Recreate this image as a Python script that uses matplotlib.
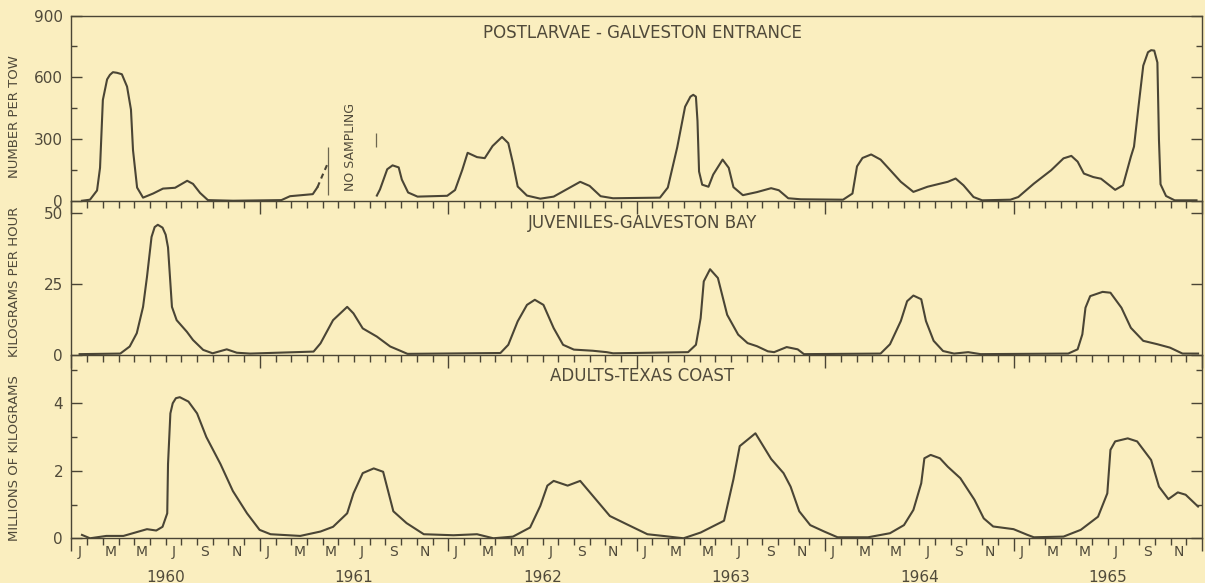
import matplotlib
matplotlib.use("Agg")
import matplotlib.pyplot as plt
import matplotlib.transforms as mtransforms
from matplotlib.ticker import FixedLocator

# ---------------- data (x = months since 1 Jan 1960) ----------------
post_a_month = [0.67, 1.18, 1.63, 1.82, 2.0, 2.27, 2.45, 2.64, 2.9, 3.21, 3.54, 3.79, 3.92,
                4.18, 4.56, 5.2, 5.83, 6.6, 7.37, 7.74, 8.19, 8.69, 10.3, 13.37, 13.92,
                15.37, 15.67]
post_a_value = [0, 5, 50, 160, 490, 590, 612, 625, 622, 615, 555, 443, 246,
                64, 15, 35, 59, 63, 97, 82, 38, 3, 0, 3, 22,
                32, 66]
post_dash_month = [15.67, 15.95, 16.37]
post_dash_value = [66, 117, 190]
post_b_month = [19.45, 19.65, 20.11, 20.45, 20.84, 21.04, 21.44, 22.04, 23.93, 24.43, 24.89,
                25.23, 25.83, 26.32, 26.82, 27.42, 27.82, 28.12, 28.42, 29.01, 29.86, 30.71,
                31.6, 32.4, 33.0, 33.7, 34.49, 37.48, 37.98, 38.58, 39.08, 39.42, 39.6, 39.77,
                39.87, 39.97, 40.17, 40.57, 40.87, 41.47, 41.86, 42.16, 42.76, 43.66, 44.56,
                45.05, 45.65, 46.45, 49.14, 49.74, 50.03, 50.38, 50.93, 51.53, 52.13, 52.82,
                53.62, 54.52, 55.16, 55.81, 56.31, 56.81, 57.45, 58.0, 59.8, 60.3, 61.29,
                62.39, 63.18, 63.68, 64.08, 64.48, 65.08, 65.57, 65.97, 66.47, 66.97, 67.47,
                67.67, 67.96, 68.26, 68.56, 68.76, 68.96, 69.16, 69.26, 69.36, 69.71, 70.26,
                71.65]
post_b_value = [25, 55, 153, 172, 162, 103, 40, 20, 24, 52, 150,
                233, 212, 207, 266, 310, 280, 182, 69, 25, 10, 20,
                58, 92, 72, 22, 12, 15, 64, 260, 457, 506, 515, 506,
                388, 142, 78, 68, 127, 200, 160, 66, 27, 42, 61,
                51, 12, 7, 5, 35, 167, 208, 225, 200, 150, 92,
                43, 68, 80, 92, 108, 75, 18, 2, 5, 18, 83,
                148, 206, 218, 190, 132, 115, 107, 83, 53, 75, 214,
                263, 460, 657, 722, 732, 730, 672, 295, 80, 23, 2,
                2]
gap_marks_month = [16.35, 19.41]
gap_marks_low = [28, 261]
gap_marks_high = [261, 329]

juv_month = [0.52, 3.11, 3.71, 4.16, 4.56, 4.81, 5.1, 5.3, 5.5, 5.8, 6.0, 6.15, 6.4, 6.7,
             7.35, 7.74, 8.39, 8.99, 9.89, 10.53, 11.38, 15.42, 15.86, 16.66, 17.56, 17.96,
             18.55, 19.45, 20.3, 20.94, 21.4, 27.32, 27.82, 28.42, 29.01, 29.51, 30.06,
             30.71, 31.31, 32.0, 33.2, 34.09, 34.49, 39.27, 39.77, 40.07, 40.27, 40.67,
             41.17, 41.76, 42.46, 43.06, 43.66, 44.35, 44.75, 45.55, 46.25, 46.65, 51.53,
             52.13, 52.82, 53.22, 53.62, 54.12, 54.42, 54.91, 55.51, 56.21, 57.11, 57.9,
             63.48, 64.08, 64.38, 64.58, 64.88, 65.67, 66.17, 66.87, 67.47, 68.26, 69.16,
             69.96, 70.76, 71.75]
juv_value = [0.3, 0.5, 3, 7.7, 17, 27.6, 41.7, 45.2, 46, 45, 42.5, 38, 17, 12.3,
             8.2, 5.3, 1.8, 0.6, 2, 0.8, 0.5, 1.2, 4.1, 12.3, 17, 14.7,
             9.4, 6.5, 3, 1.5, 0.4, 0.7, 3.6, 11.9, 17.7, 19.5, 17.7,
             9.5, 3.6, 1.9, 1.5, 1, 0.6, 1, 3.6, 13, 26, 30.3,
             27.2, 14.2, 7.2, 4.2, 3.1, 1.3, 1, 2.8, 2.0, 0.3, 0.5,
             3.8, 12, 19, 21, 19.7, 12, 5, 1.4, 0.5, 1, 0.3,
             0.5, 2, 7.3, 16.7, 20.8, 22.3, 22, 16.7, 9.6, 5, 3.8,
             2.6, 0.5, 0.5]

adult_month = [0.67, 1.18, 2.22, 3.31, 3.91, 4.81, 5.4, 5.8, 6.1, 6.15, 6.3, 6.45, 6.65, 6.9,
               7.45, 8.0, 8.59, 9.49, 10.28, 11.18, 11.98, 12.68, 14.57, 15.86, 16.66, 17.56,
               17.96, 18.55, 19.25, 19.85, 20.15, 20.5, 21.34, 22.44, 24.33, 25.83, 26.87,
               28.12, 29.21, 29.86, 30.31, 30.71, 31.6, 32.4, 33.2, 34.29, 35.39, 36.68,
               37.68, 38.98, 40.07, 41.56, 42.16, 42.56, 43.56, 44.56, 45.35, 45.8, 46.35,
               47.05, 47.94, 48.79, 50.73, 52.13, 53.02, 53.62, 54.12, 54.32, 54.72, 55.31,
               55.81, 56.61, 57.51, 58.1, 58.7, 60.0, 60.89, 61.29, 63.18, 64.28, 65.38,
               65.97, 66.17, 66.47, 67.27, 67.87, 68.76, 69.26, 69.86, 70.46, 70.96, 71.75]
adult_value = [0.1, 0, 0.07, 0.07, 0.15, 0.27, 0.23, 0.34, 0.74, 2.2, 3.7, 4.0, 4.15, 4.18,
               4.05, 3.7, 3.0, 2.2, 1.4, 0.74, 0.25, 0.12, 0.07, 0.2, 0.34, 0.74,
               1.33, 1.93, 2.07, 1.97, 1.43, 0.8, 0.45, 0.12, 0.09, 0.12, 0,
               0.05, 0.32, 0.96, 1.56, 1.7, 1.56, 1.7, 1.26, 0.66, 0.41, 0.12,
               0.07, 0, 0.17, 0.52, 1.75, 2.73, 3.11, 2.35, 1.93, 1.53, 0.8,
               0.39, 0.2, 0.03, 0.03, 0.15, 0.39, 0.84, 1.63, 2.37, 2.47, 2.37,
               2.12, 1.78, 1.14, 0.59, 0.35, 0.27, 0.1, 0.03, 0.05, 0.25, 0.64,
               1.33, 2.62, 2.87, 2.96, 2.87, 2.32, 1.53, 1.16, 1.36, 1.29, 0.94]

month_letters = ["J", "M", "M", "J", "S", "N"]
years = ["1960", "1961", "1962", "1963", "1964", "1965"]
titles = ["POSTLARVAE - GALVESTON ENTRANCE", "JUVENILES-GALVESTON BAY", "ADULTS-TEXAS COAST"]
ylabels = ["NUMBER PER TOW", "KILOGRAMS PER HOUR", "MILLIONS OF KILOGRAMS"]
no_sampling_text = "NO SAMPLING"

top_major = [0, 300, 600, 900]
top_minor = [150, 450, 750]
mid_major = [0, 25, 50]
bot_major = [0, 2, 4]
bot_minor = [1, 3, 5]

# ---------------- style ----------------
BG = "#FAEEBF"
INK = "#4a4535"
TXT = "#504a3a"

fig = plt.figure(figsize=(12.05, 5.83), dpi=100, facecolor=BG)
L, W = 0.0593, 0.9382
ax1 = fig.add_axes([L, 0.6557, W, 0.3175])
ax2 = fig.add_axes([L, 0.3911, W, 0.2646])
ax3 = fig.add_axes([L, 0.0767, W, 0.3144])

for ax in (ax1, ax2, ax3):
    ax.patch.set_visible(False)
    ax.set_xlim(0, 72)
    for s in ax.spines.values():
        s.set_color(INK)
        s.set_linewidth(1.0)
    ax.xaxis.set_major_locator(FixedLocator(list(range(0, 73, 12))))
    ax.xaxis.set_minor_locator(FixedLocator(list(range(0, 73))))
    ax.tick_params(axis="x", which="major", direction="out", length=9, width=1.0,
                   color=INK, labelbottom=False, top=False)
    ax.tick_params(axis="x", which="minor", direction="out", length=5, width=1.0,
                   color=INK, top=False)
    ax.tick_params(axis="y", which="major", direction="in", length=8, width=1.0,
                   color=INK, labelsize=11, labelcolor=TXT, pad=6, right=True,
                   labelright=False)
    ax.tick_params(axis="y", which="minor", direction="in", length=4, width=1.0,
                   color=INK, right=True)

ax2.spines["top"].set_visible(False)
ax3.spines["top"].set_visible(False)

LW = 1.5
# top panel
ax1.set_ylim(0, 900)
ax1.set_yticks(top_major)
ax1.set_yticks(top_minor, minor=True)
ax1.plot(post_a_month, post_a_value, color=INK, lw=LW, solid_joinstyle="round")
ax1.plot(post_dash_month, post_dash_value, color=INK, lw=LW, ls=(0, (2.5, 2)))
ax1.plot(post_b_month, post_b_value, color=INK, lw=LW, solid_joinstyle="round")
ax1.vlines(gap_marks_month, gap_marks_low, gap_marks_high, color=INK, lw=0.9, alpha=0.8)
ax1.text(17.75, 263, no_sampling_text, rotation=90, ha="center", va="center",
         fontsize=9, color=TXT)

# middle panel
ax2.set_ylim(0, 54.5)
ax2.set_yticks(mid_major)
ax2.plot(juv_month, juv_value, color=INK, lw=LW, solid_joinstyle="round")

# bottom panel
ax3.set_ylim(0, 5.43)
ax3.set_yticks(bot_major)
ax3.set_yticks(bot_minor, minor=True)
ax3.plot(adult_month, adult_value, color=INK, lw=LW, solid_joinstyle="round")

# titles
for ax, t, yy in zip((ax1, ax2, ax3), titles, (0.906, 0.855, 0.885)):
    ax.text(0.505, yy, t, transform=ax.transAxes, ha="center", va="center",
            fontsize=12, color=TXT)

# month and year labels
trans = mtransforms.blended_transform_factory(ax3.transData, ax3.transAxes)
for yi, yr in enumerate(years):
    for mi, ml in enumerate(month_letters):
        ax3.text(yi * 12 + mi * 2 + 0.5, -0.077, ml, transform=trans, ha="center",
                 va="center", fontsize=10, color=TXT)
    ax3.text(yi * 12 + 6, -0.213, yr, transform=trans, ha="center", va="center",
             fontsize=11, color=TXT)

# y labels
for lab, yy in zip(ylabels, (0.7993, 0.5163, 0.2144)):
    fig.text(0.0124, yy, lab, rotation=90, ha="center", va="center",
             fontsize=9.5, color=TXT)

fig.savefig("out.png", dpi=100, facecolor=BG)
